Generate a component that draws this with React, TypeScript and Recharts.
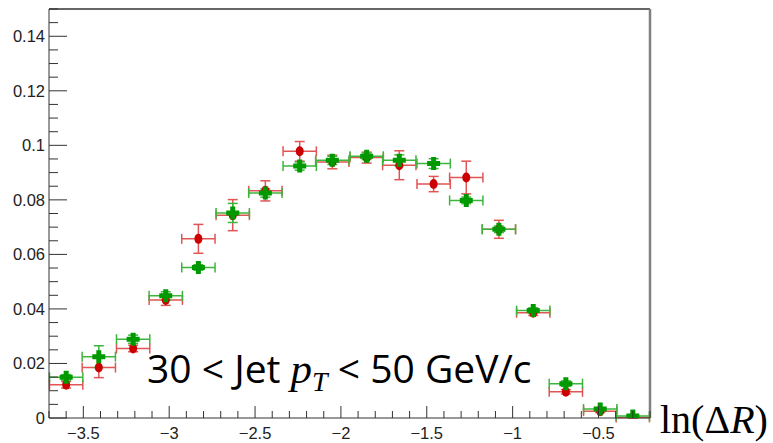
import { ComposedChart, Scatter, ErrorBar, XAxis, YAxis, ReferenceLine } from "recharts";

// bin centres in ln(ΔR), 18 equal bins
const binCenters = [-3.60, -3.41, -3.21, -3.02, -2.83, -2.63, -2.44, -2.24, -2.05, -1.85, -1.66, -1.46, -1.27, -1.08, -0.88, -0.69, -0.49, -0.30];
const binHalfWidth = 0.097;

const greenY = [0.0149, 0.0225, 0.0289, 0.0448, 0.0552, 0.0752, 0.0825, 0.0924, 0.0945, 0.0960, 0.0945, 0.0933, 0.0798, 0.0692, 0.0394, 0.0126, 0.0033, 0.0007];
const greenErr = [0.0010, 0.0040, 0.0015, 0.0015, 0.0010, 0.0035, 0.0015, 0.0015, 0.0015, 0.0012, 0.0020, 0.0018, 0.0012, 0.0012, 0.0010, 0.0010, 0.0005, 0.0003];
const redY = [0.0122, 0.0185, 0.0255, 0.0433, 0.0657, 0.0744, 0.0833, 0.0978, 0.0939, 0.0955, 0.0927, 0.0858, 0.0882, 0.0692, 0.0386, 0.0096, 0.0025, 0.0002];
const redErr = [0.0012, 0.0037, 0.0012, 0.0020, 0.0053, 0.0057, 0.0037, 0.0036, 0.0025, 0.0020, 0.0053, 0.0028, 0.0060, 0.0033, 0.0010, 0.0008, 0.0005, 0.0003];

const xMajorTicks = [-3.5, -3, -2.5, -2, -1.5, -1, -0.5];
const xTickLabels = ["\u22123.5", "\u22123", "\u22122.5", "\u22122", "\u22121.5", "\u22121", "\u22120.5"];
const yMajorTicks = [0, 0.02, 0.04, 0.06, 0.08, 0.1, 0.12, 0.14];
const yTickLabels = ["0", "0.02", "0.04", "0.06", "0.08", "0.1", "0.12", "0.14"];

const greenData = binCenters.map((x, i) => ({ x, y: greenY[i], ex: binHalfWidth, ey: greenErr[i] }));
const redData = binCenters.map((x, i) => ({ x, y: redY[i], ex: binHalfWidth, ey: redErr[i] }));

// minor ticks: 0.1 on x, 0.005 on y
const xTicks = Array.from({ length: 36 }, (_, i) => +(-3.7 + i * 0.1).toFixed(2));
const yTicks = Array.from({ length: 31 }, (_, i) => +(i * 0.005).toFixed(3));

const W = 773, H = 443;
const plot = { left: 49, top: 9, right: 650, bottom: 418 };
const labelStyle = { fontSize: "16.5px", fontFamily: "'Liberation Sans', Arial, sans-serif", fill: "#222" };

function XTick(props: any) {
  const { x, payload } = props;
  const k = xMajorTicks.findIndex(t => Math.abs(t - payload.value) < 1e-6);
  const major = k >= 0;
  return (
    <g>
      <line x1={x} x2={x} y1={plot.bottom} y2={plot.bottom - (major ? 12 : 7)} stroke="#333" />
      {major && (
        <text x={x} y={plot.bottom + 21} textAnchor="middle" style={labelStyle}>{xTickLabels[k]}</text>
      )}
    </g>
  );
}

function YTick(props: any) {
  const { y, payload } = props;
  const k = yMajorTicks.findIndex(t => Math.abs(t - payload.value) < 1e-6);
  const major = k >= 0;
  return (
    <g>
      <line x1={plot.left} x2={plot.left + (major ? 18 : 9)} y1={y} y2={y} stroke="#333" />
      {major && (
        <text x={plot.left - 4} y={y + 6} textAnchor="end" style={labelStyle}>{yTickLabels[k]}</text>
      )}
    </g>
  );
}

const Cross = (p: any) => {
  const { cx, cy } = p;
  return <path d={`M${cx - 2.5},${cy - 6.5}h5v4h4v5h-4v4h-5v-4h-4v-5h4z`} fill="#009900" />;
};
const Dot = (p: any) => <ellipse cx={p.cx} cy={p.cy} rx={4} ry={5} fill="#cc0000" />;

export default function App() {
  return (
    <div style={{ position: "fixed", left: 0, top: 0, width: W, height: H, background: "#fff" }}>
      <ComposedChart width={W} height={H} margin={{ top: plot.top, right: W - plot.right, bottom: 0, left: 0 }}>
        <XAxis dataKey="x" type="number" domain={[-3.7, -0.2]} ticks={xTicks} allowDataOverflow interval={0}
          tick={(p: any) => <XTick {...p} />} tickLine={false} axisLine={{ stroke: "#333" }} height={H - plot.bottom} />
        <YAxis dataKey="y" type="number" domain={[0, 0.15]} ticks={yTicks} allowDataOverflow interval={0}
          tick={(p: any) => <YTick {...p} />} tickLine={false} axisLine={{ stroke: "#333" }} width={plot.left} />
        <ReferenceLine y={0.15} stroke="#333" strokeWidth={1.5} />
        <ReferenceLine x={-0.2} stroke="#808080" strokeWidth={2.5} />
        <Scatter data={redData} dataKey="y" shape={Dot} isAnimationActive={false}>
          <ErrorBar dataKey="ex" direction="x" width={5} stroke="#e05555" strokeWidth={1.5} isAnimationActive={false} />
          <ErrorBar dataKey="ey" direction="y" width={5} stroke="#e05555" strokeWidth={1.5} isAnimationActive={false} />
        </Scatter>
        <Scatter data={greenData} dataKey="y" shape={Cross} isAnimationActive={false}>
          <ErrorBar dataKey="ex" direction="x" width={5} stroke="#3cb53c" strokeWidth={1.5} isAnimationActive={false} />
          <ErrorBar dataKey="ey" direction="y" width={5} stroke="#3cb53c" strokeWidth={1.5} isAnimationActive={false} />
        </Scatter>
      </ComposedChart>
      <svg width={W} height={H} style={{ position: "absolute", left: 0, top: 0, pointerEvents: "none" }}>
        <text x={147} y={383} fontSize={39} fontFamily="'Open Sans', sans-serif" fill="#000">
          30 &lt; Jet{" "}
          <tspan fontFamily="'Liberation Serif', serif" fontStyle="italic" fontSize={43}>p</tspan>
          <tspan fontFamily="'Liberation Serif', serif" fontStyle="italic" fontSize={28} dy={8}>T</tspan>
          <tspan dy={-8}> &lt; 50 GeV/c</tspan>
        </text>
        <text x={660} y={433} fontSize={40} fontFamily="'Liberation Serif', serif" fill="#000">
          ln(Δ<tspan fontStyle="italic">R</tspan>)
        </text>
      </svg>
    </div>
  );
}
